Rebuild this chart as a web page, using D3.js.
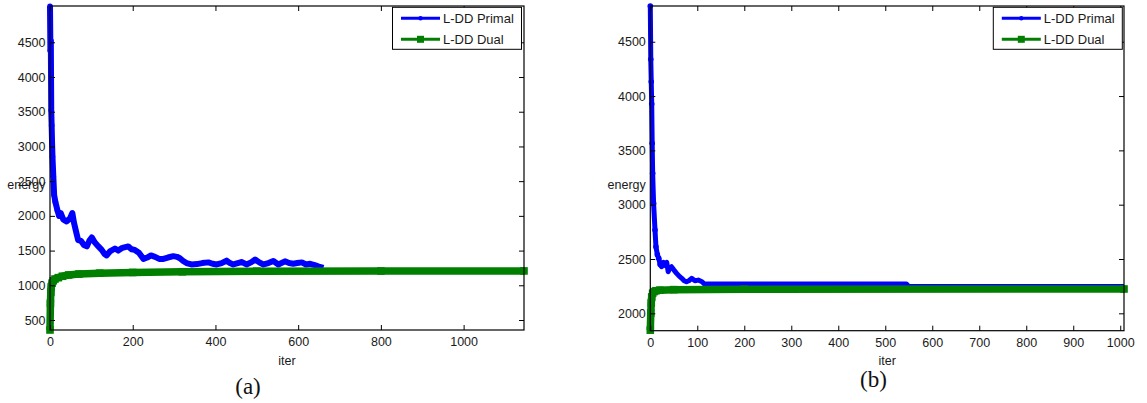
<!DOCTYPE html>
<html>
<head>
<meta charset="utf-8">
<script src="https://cdnjs.cloudflare.com/ajax/libs/d3/7.8.5/d3.min.js"></script>
<style>
  body { margin: 0; background: #fff; }
  svg { display: block; }
  text { font-family: "Liberation Sans", Arial, Helvetica, sans-serif; fill: #1a1a1a; }
  .caption { font-family: "Liberation Serif", "Times New Roman", serif; fill: #111; }
</style>
</head>
<body>
<div id="chart"></div>
<script>
// panel (a)
const aPrimalIter = [0,1,2,3,4,5,6,8,10,13,18,22,26,32,40,48,54,58,64,68,75,82,89,95,101,108,117,125,132,137,145,157,165,175,189,197,205,215,226,235,244,254,264,274,285,298,307,314,322,330,342,355,368,383,393,403,415,427,435,443,454,464,475,486,496,506,516,528,540,552,568,578,588,598,609,619,629,640,650,661];
const aPrimal = [5020,4380,4520,3520,3300,3050,2850,2570,2300,2200,2080,2000,2040,1950,1920,1960,2040,1900,1750,1650,1640,1580,1560,1640,1690,1620,1560,1510,1450,1430,1490,1530,1500,1540,1560,1520,1510,1470,1380,1400,1430,1410,1380,1380,1400,1420,1410,1390,1350,1320,1300,1305,1320,1330,1310,1300,1320,1355,1320,1300,1320,1335,1300,1330,1370,1330,1300,1320,1350,1300,1345,1320,1310,1320,1330,1300,1310,1290,1270,1250];
const aDualIter = [0,1,2,3,5,8,12,20,30,45,70,120,200,320,500,800,1146];
const aDual = [356,740,900,980,1030,1065,1090,1110,1130,1148,1162,1175,1185,1195,1203,1206,1207];
const aXTicks = [0,200,400,600,800,1000];
const aYTicks = [500,1000,1500,2000,2500,3000,3500,4000,4500];

// panel (b)
const bPrimalIter = [0,1,2,3,4,5,7,10,12,15,18,21,24,28,32,35,38,42,45,50,56,62,67,72,77,82,88,95,102,110,115,545,550,1008];
const bPrimal = [4829,4338,4132,3926,3565,3289,3012,2767,2613,2540,2506,2450,2429,2470,2440,2470,2383,2420,2429,2400,2368,2340,2322,2300,2291,2300,2322,2300,2306,2291,2270,2270,2247,2247];
const bDualIter = [0,1,2,3,5,8,12,20,50,200,1008];
const bDual = [1845,2003,2095,2150,2185,2200,2208,2213,2218,2222,2224];
const bXTicks = [0,100,200,300,400,500,600,700,800,900,1000];
const bYTicks = [2000,2500,3000,3500,4000,4500];

const seriesNames = ["L-DD Primal", "L-DD Dual"];
const blue = "#0000ff", green = "#007f00";

const W = 1147, H = 403;
const svg = d3.select("#chart").append("svg").attr("width", W).attr("height", H);

function drawPanel(p) {
    const x = d3.scaleLinear().domain(p.xDomain).range([p.left, p.right]);
    const y = d3.scaleLinear().domain(p.yDomain).range([p.bottom, p.top]);
    const g = svg.append("g");

    // series lines
    const line = d3.line().x(d => x(d[0])).y(d => y(d[1]));
    const primal = p.primalIter.map((t, i) => [t, p.primal[i]]);
    const dual = p.dualIter.map((t, i) => [t, p.dual[i]]);

    g.append("path").datum(primal)
        .attr("d", line)
        .attr("fill", "none")
        .attr("stroke", blue)
        .attr("stroke-width", p.primalW)
        .attr("stroke-linejoin", "round");
    g.selectAll(".pdot").data(primal.slice(0, 12)).enter().append("circle")
        .attr("cx", d => x(d[0])).attr("cy", d => y(d[1]))
        .attr("r", 2.8).attr("fill", blue);

    g.append("path").datum(dual)
        .attr("d", line)
        .attr("fill", "none")
        .attr("stroke", green)
        .attr("stroke-width", 7.5)
        .attr("stroke-linejoin", "round");
    g.selectAll(".dsq").data(dual).enter().append("rect")
        .attr("x", d => x(d[0]) - 3.8).attr("y", d => y(d[1]) - 3.8)
        .attr("width", 7.6).attr("height", 7.6).attr("fill", green);

    // axes, ticks inside on all four sides
    const tick = 5;
    const fmt = d3.format("d");
    g.append("g").attr("transform", `translate(0,${p.bottom})`)
        .call(d3.axisBottom(x).tickValues(p.xTicks).tickFormat(fmt).tickSize(-tick).tickSizeOuter(0).tickPadding(7));
    g.append("g").attr("transform", `translate(${p.left},0)`)
        .call(d3.axisLeft(y).tickValues(p.yTicks).tickFormat(fmt).tickSize(-tick).tickSizeOuter(0).tickPadding(4.5));
    g.append("g").attr("transform", `translate(0,${p.top})`)
        .call(d3.axisTop(x).tickValues(p.xTicks).tickSize(-tick).tickSizeOuter(0).tickFormat(""));
    g.append("g").attr("transform", `translate(${p.right},0)`)
        .call(d3.axisRight(y).tickValues(p.yTicks).tickSize(-tick).tickSizeOuter(0).tickFormat(""));
    g.selectAll(".domain").remove();
    g.selectAll(".tick line").attr("stroke", "#000").attr("stroke-width", 1);
    g.selectAll(".tick text").style("font-size", "12.5px").attr("fill", "#1a1a1a");

    g.append("rect")
        .attr("x", p.left).attr("y", p.top)
        .attr("width", p.right - p.left).attr("height", p.bottom - p.top)
        .attr("fill", "none").attr("stroke", "#000").attr("stroke-width", 1.2);

    // axis labels (the y label sits over a tick label, as in the original)
    g.append("text").attr("x", p.left - 4.5).attr("y", 189)
        .attr("text-anchor", "end").style("font-size", "12.5px").text("energy");
    g.append("text").attr("x", (p.left + p.right) / 2).attr("y", 365)
        .attr("text-anchor", "middle").style("font-size", "12.5px").text("iter");
    g.append("text").attr("class", "caption")
        .attr("x", p.capX).attr("y", p.capY)
        .attr("text-anchor", "middle").style("font-size", "23px").text(p.caption);

    // legend
    const lg = g.append("g").attr("transform", `translate(${p.legX},${p.top + 1.3})`);
    lg.append("rect").attr("x", 0).attr("y", 0)
        .attr("width", p.legW).attr("height", 42)
        .attr("fill", "#fff").attr("stroke", "#000").attr("stroke-width", 1);
    const rows = [{ c: blue, y: 11, m: "dot" }, { c: green, y: 32, m: "sq" }];
    rows.forEach((r, i) => {
        lg.append("line").attr("x1", 8.5).attr("x2", 47.5).attr("y1", r.y).attr("y2", r.y)
            .attr("stroke", r.c).attr("stroke-width", 3);
        if (r.m === "dot") {
            lg.append("circle").attr("cx", 28).attr("cy", r.y).attr("r", 2.2).attr("fill", r.c);
        } else {
            lg.append("rect").attr("x", 24.5).attr("y", r.y - 3.5).attr("width", 7).attr("height", 7).attr("fill", r.c);
        }
        lg.append("text").attr("x", 50.5).attr("y", r.y + 4.5)
            .style("font-size", "13px").text(seriesNames[i]);
    });
}

drawPanel({
    left: 50, right: 524, top: 6, bottom: 330,
    xDomain: [0, 1146], yDomain: [356, 5023],
    xTicks: aXTicks, yTicks: aYTicks,
    primalIter: aPrimalIter, primal: aPrimal, dualIter: aDualIter, dual: aDual,
    primalW: 6,
    caption: "(a)", capX: 248, capY: 394,
    legX: 392.5, legW: 129
});

drawPanel({
    left: 650.3, right: 1124, top: 6, bottom: 330.7,
    xDomain: [0, 1008], yDomain: [1840, 4829],
    xTicks: bXTicks, yTicks: bYTicks,
    primalIter: bPrimalIter, primal: bPrimal, dualIter: bDualIter, dual: bDual,
    primalW: 5,
    caption: "(b)", capX: 873.5, capY: 387,
    legX: 993.3, legW: 129
});
</script>
</body>
</html>
